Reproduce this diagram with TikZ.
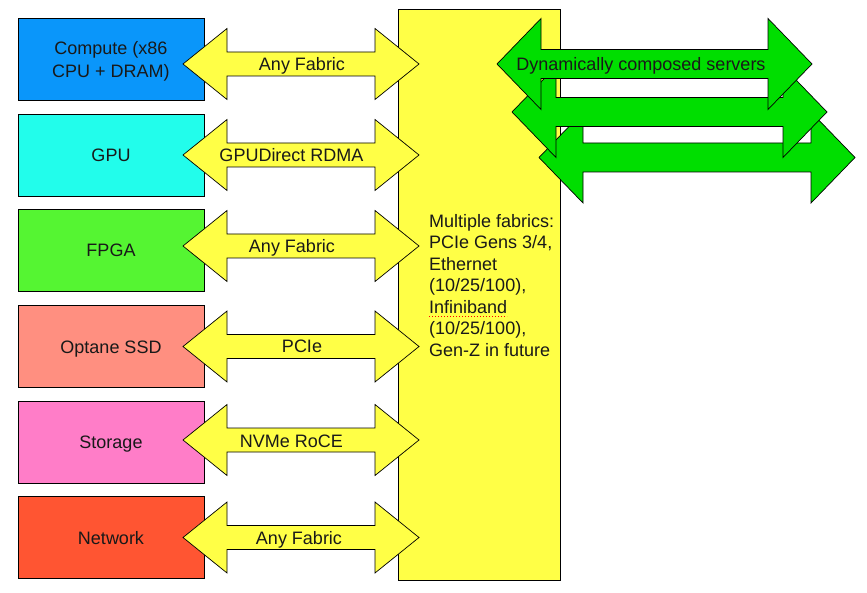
\documentclass[tikz,border=0pt]{standalone}
\usepackage{fontspec}
\setmainfont{Liberation Sans}
\usetikzlibrary{calc}
\definecolor{cblue}{RGB}{10,150,250}
\definecolor{ccyan}{RGB}{34,253,235}
\definecolor{cfpga}{RGB}{85,245,50}
\definecolor{coptane}{RGB}{255,143,128}
\definecolor{cstorage}{RGB}{255,125,200}
\definecolor{cnet}{RGB}{255,85,50}
\definecolor{cyel}{RGB}{255,255,70}
\definecolor{cgreen}{RGB}{0,222,0}
\newcommand\fatarrow[6]{\draw[#1] (#2) -- ++(#4,-#6) -- ++(0,#6-#5) -- ($(#3)+(-#4,-#5)$) -- ++(0,#5-#6) -- (#3) -- ++(-#4,#6) -- ++(0,#5-#6) -- ($(#2)+(#4,#5)$) -- ++(0,#6-#5) -- cycle;}
\tikzset{
  box/.style={draw=black, line width=0.8pt, minimum width=186pt, minimum height=82pt, inner sep=0pt, text=black!90, text height=13pt, text depth=0pt},
  lbl/.style={inner sep=0pt, anchor=base, text=black!90},
  yarrow/.style={draw=black, line width=0.7pt, fill=cyel},
  garrow/.style={draw=black, line width=0.7pt, fill=cgreen},
}
\begin{document}
\begin{tikzpicture}[x=1pt,y=-1pt, font=\fontsize{18}{22}\selectfont]
\useasboundingbox (0,0) rectangle (867,593);
\fill[white] (0,0) rectangle (867,593);
% component boxes
\node[box, fill=cblue] (compute) at (111,59) {};
\node[lbl] (computelbl) at (111,55) {\fontsize{18}{22.7}\selectfont\begin{tabular}[t]{@{}c@{}}Compute (x86\\CPU + DRAM)\end{tabular}};
\node[box, fill=ccyan] (gpu) at (111,155) {GPU};
\node[box, fill=cfpga] (fpga) at (111,250.5) {FPGA};
\node[box, fill=coptane] (optane) at (111,346.5) {Optane SSD};
\node[box, fill=cstorage] (storage) at (111,442) {Storage};
\node[box, fill=cnet] (network) at (111,537.5) {Network};
% fabric column
\node[draw=black, line width=0.8pt, fill=cyel, minimum width=162pt, minimum height=571pt, inner sep=0pt, anchor=north west] (fab) at (398,9) {};
\node[inner sep=0pt, anchor=base west, text=black!90] (fabtext) at (429,227.3) {\fontsize{18}{21.5}\selectfont\begin{tabular}[t]{@{}l@{}}Multiple fabrics:\\PCIe Gens 3/4,\\Ethernet\\(10/25/100),\\Infiniband\\(10/25/100),\\Gen-Z in future\end{tabular}};
\draw[red, line width=1pt, dotted] (429,316.5) -- (507,316.5);
% arrow end points
\coordinate (a1l) at (183,64);    \coordinate (a1r) at (419,64);
\coordinate (a2l) at (183,155);   \coordinate (a2r) at (419,155);
\coordinate (a3l) at (183,246);   \coordinate (a3r) at (419,246);
\coordinate (a4l) at (183,346.5); \coordinate (a4r) at (419,346.5);
\coordinate (a5l) at (183,440);   \coordinate (a5r) at (419,440);
\coordinate (a6l) at (183,537.5); \coordinate (a6r) at (419,537.5);
\fatarrow{yarrow}{a1l}{a1r}{44}{12}{35.5}
\fatarrow{yarrow}{a2l}{a2r}{44}{12}{35.5}
\fatarrow{yarrow}{a3l}{a3r}{44}{12}{35.5}
\fatarrow{yarrow}{a4l}{a4r}{44}{12}{35.5}
\fatarrow{yarrow}{a5l}{a5r}{44}{12}{35.5}
\fatarrow{yarrow}{a6l}{a6r}{44}{12}{35.5}
\node[lbl] (l1) at (302,71) {Any Fabric};
\node[lbl] (l2) at (291.5,161.7) {GPUDirect RDMA};
\node[lbl] (l3) at (292,252.7) {Any Fabric};
\node[lbl] (l4) at (302,352.7) {PCIe};
\node[lbl] (l5) at (291.5,447) {NVMe RoCE};
\node[lbl] (l6) at (299,544.7) {Any Fabric};
% composed servers
\coordinate (g3l) at (539,157.5); \coordinate (g3r) at (855,157.5);
\coordinate (g2l) at (512,112);   \coordinate (g2r) at (827,112);
\coordinate (g1l) at (497,64);    \coordinate (g1r) at (812,64);
\fatarrow{garrow}{g3l}{g3r}{44}{14.5}{45.5}
\fatarrow{garrow}{g2l}{g2r}{44}{14.5}{45.5}
\fatarrow{garrow}{g1l}{g1r}{44}{14.5}{45.5}
\node[lbl] (gl) at (641,70.5) {Dynamically composed servers};
\end{tikzpicture}
\end{document}
